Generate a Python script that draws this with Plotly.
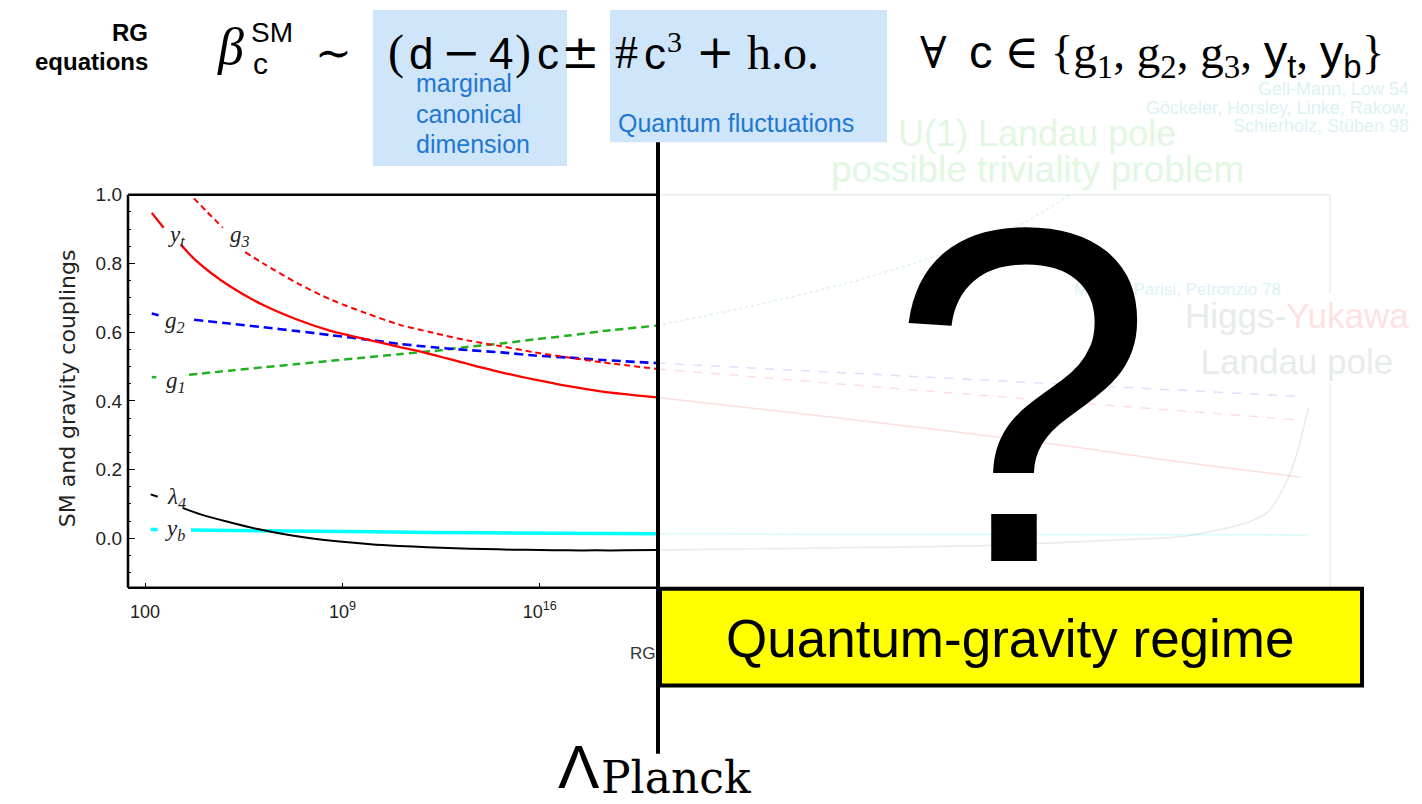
import plotly.graph_objects as go

W, H = 1422, 804

# ---------------- data ----------------
# x: log10 of the RG scale k [GeV]; None = gap left for the curve label
yt_logk = [2.24, 2.66, None, 3.26, 3.8, 5.0, 6.21, 7.41, 8.61, 9.81, 11.01, 11.98, 13.42, 14.63,
           15.82, 17.02, 18.22, 20.15]
yt_val = [0.947, 0.904, None, 0.856, 0.809, 0.734, 0.678, 0.636, 0.603, 0.580, 0.557, 0.539, 0.508,
          0.483, 0.462, 0.443, 0.427, 0.410]

g3_logk = [3.3, 3.62, 4.2, 4.76, None, 5.55, 6.21, 7.41, 8.61, 9.81, 11.01, 12.22, 13.42, 14.63,
           15.82, 17.02, 18.22, 20.15]
g3_val = [1.035, 1.0, 0.950, 0.904, None, 0.833, 0.799, 0.742, 0.694, 0.656, 0.622, 0.598, 0.576,
          0.559, 0.541, 0.526, 0.512, 0.493]

g2_logk = [2.24, 2.48, None, 3.74, 5.0, 6.21, 7.41, 8.61, 9.81, 11.01, 12.22, 13.42, 14.63, 15.82,
           17.02, 18.22, 20.15]
g2_val = [0.654, 0.649, None, 0.636, 0.625, 0.614, 0.603, 0.591, 0.579, 0.566, 0.556, 0.548, 0.541,
          0.532, 0.526, 0.519, 0.510]

g1_logk = [2.24, 2.4, None, 3.56, 5.0, 6.21, 7.41, 8.61, 9.81, 11.01, 12.22, 13.42, 14.63, 15.82,
           17.02, 18.22, 20.15]
g1_val = [0.469, 0.469, None, 0.476, 0.488, 0.498, 0.507, 0.517, 0.526, 0.536, 0.545, 0.557, 0.567,
          0.579, 0.590, 0.603, 0.619]

lam_logk = [2.2, 2.45, None, 3.35, 4, 5, 6, 7, 8, 9, 10, 11, 12, 13, 14, 15, 16, 17, 18, 19, 20.15]
lam_val = [0.128, 0.121, None, 0.088, 0.069, 0.047, 0.027, 0.011, -0.001, -0.010, -0.017, -0.022,
           -0.026, -0.029, -0.031, -0.033, -0.034, -0.035, -0.035, -0.035, -0.034]

yb_logk = [2.2, 2.45, None, 3.63, 6, 10, 14, 20.15]
yb_val = [0.026, 0.026, None, 0.024, 0.022, 0.019, 0.016, 0.013]

# faded trans-Planckian continuation
g1_tp_logk = [20.15, 23.45, 27.0, 30.55, 33.0, 34.8, 35.9]
g1_tp_val = [0.619, 0.675, 0.745, 0.835, 0.912, 1.0, 1.07]
g2_tp_logk = [20.15, 30, 42.96]
g2_tp_val = [0.510, 0.468, 0.413]
g3_tp_logk = [20.15, 30, 42.96]
g3_tp_val = [0.493, 0.427, 0.344]
yt_tp_logk = [20.15, 26.6, 33.6, 38.0, 39.4, 42.96]
yt_tp_val = [0.410, 0.350, 0.281, 0.230, 0.215, 0.178]
lam_tp_logk = [20.15, 32.1, 36.0, 39.1, 41.75, 42.6, 42.96, 43.25]
lam_tp_val = [-0.034, -0.020, -0.006, 0.009, 0.072, 0.187, 0.281, 0.379]
yb_tp_logk = [20.15, 43.25]
yb_tp_val = [0.013, 0.010]

x_tick_vals = [100.0, 1e9, 1e16]
x_tick_text = ["100", "10<sup>9</sup>", "10<sup>16</sup>"]
y_tick_vals = [0.0, 0.2, 0.4, 0.6, 0.8, 1.0]
y_tick_text = ["0.0", "0.2", "0.4", "0.6", "0.8", "1.0"]


def to_k(logk):
    return [None if v is None else 10.0 ** float(v) for v in logk]


def px(x):
    return x / W


def py(y):
    return 1 - y / H


fig = go.Figure()


def add(logk, vals, color, width, dash="solid", shape="spline"):
    fig.add_trace(go.Scatter(x=to_k(logk), y=vals, mode="lines", connectgaps=False,
                             line=dict(color=color, width=width, dash=dash, shape=shape,
                                       smoothing=0.8),
                             hoverinfo="skip", showlegend=False))


# faded continuation first
add(g1_tp_logk, g1_tp_val, "rgba(0,180,0,0.13)", 1.5, "dot")
add(g2_tp_logk, g2_tp_val, "rgba(0,0,255,0.13)", 1.5, "dash")
add(g3_tp_logk, g3_tp_val, "rgba(255,0,0,0.13)", 1.5, "dash")
add(yt_tp_logk, yt_tp_val, "rgba(255,0,0,0.13)", 1.5)
add(lam_tp_logk, lam_tp_val, "rgba(0,70,40,0.10)", 1.5)
add(yb_tp_logk, yb_tp_val, "rgba(0,220,220,0.15)", 1.5)

# Standard-Model part
add(yb_logk, yb_val, "#00ffff", 3.5)
add(lam_logk, lam_val, "#000000", 2.0)
add(g1_logk, g1_val, "#22b022", 2.5, "8px,5px")
add(g2_logk, g2_val, "#0000ff", 2.6, "9px,5px")
add(g3_logk, g3_val, "#ff0000", 2.0, "6px,4px")
add(yt_logk, yt_val, "#ff0000", 2.3)

X0, X1 = 128, 1330
Y0, Y1 = 187, 585

fig.update_layout(
    width=W, height=H,
    margin=dict(l=0, r=0, t=0, b=0),
    paper_bgcolor="white", plot_bgcolor="white",
    showlegend=False,
    xaxis=dict(type="log", domain=[px(X0), px(X1)], range=[1.397, 44.02],
               showgrid=False, zeroline=False, showline=False,
               tickvals=x_tick_vals, ticktext=x_tick_text,
               ticks="inside", ticklen=5, tickwidth=1.2, tickcolor="black",
               ticklabelstandoff=11,
               tickfont=dict(family="Liberation Sans", size=18, color="#222")),
    yaxis=dict(domain=[py(Y1), py(Y0)], range=[-0.1437, 1.0],
               showgrid=False, zeroline=False, showline=False,
               tickvals=y_tick_vals, ticktext=y_tick_text,
               ticks="inside", ticklen=7, tickwidth=1.2, tickcolor="black",
               ticklabelstandoff=5,
               minor=dict(ticks="inside", ticklen=3, dtick=0.05, tickcolor="black", tickwidth=1),
               tickfont=dict(family="Liberation Sans", size=19, color="#222")),
)

shapes = []


def line(x0, y0, x1, y1, color, width, layer="above"):
    shapes.append(dict(type="line", xref="paper", yref="paper",
                       x0=px(x0), y0=py(y0), x1=px(x1), y1=py(y1),
                       line=dict(color=color, width=width), layer=layer))


def rect(x0, y0, x1, y1, fill, lcolor=None, lwidth=0, layer="above"):
    shapes.append(dict(type="rect", xref="paper", yref="paper",
                       x0=px(x0), y0=py(y0), x1=px(x1), y1=py(y1),
                       fillcolor=fill, line=dict(color=lcolor or fill, width=lwidth), layer=layer))


# blue highlight boxes
rect(373, 0, 567, 158, "#cfe6fa", layer="below")
rect(610, 0, 887, 134, "#cfe6fa", layer="below")
# faded frame
line(657, Y0, X1, Y0, "#e6eeea", 1.5)
line(X1, Y0, X1, 287, "#e6eeea", 1.5)
line(X1, 378, X1, Y1, "#e6eeea", 1.5)
line(657, Y1, X1, Y1, "#e6eeea", 1.5)
# main frame
line(X0, Y0, 658, Y0, "black", 2.5)
line(X0, Y1, 658, Y1, "black", 2.5)
line(X0, Y0, X0, Y1, "black", 2.5)
# yellow box
rect(660, 586, 1362, 684, "#ffff00", "black", 4)
# Planck line
line(658, 134, 658, 753, "black", 4)
fig.update_layout(shapes=shapes)

anns = []


def ann(text, x, y, size, family="Liberation Sans", color="black", xa="center", ya="middle", **kw):
    d = dict(text=text, x=px(x), y=py(y), xref="paper", yref="paper", showarrow=False,
             xanchor=xa, yanchor=ya, font=dict(size=size, family=family, color=color), borderpad=0)
    d.update(kw)
    anns.append(d)


SER = "Liberation Serif, DejaVu Serif"
SAN = "Liberation Sans, DejaVu Sans"

# header
ann("<b>RG</b>", 149, 23, 24, xa="right")
ann("<b>equations</b>", 149, 52, 24, xa="right")

# formula  beta_c^SM ~ (d-4) c +- # c^3 + h.o.   forall c in {...}
ann("<i>β</i>", 231, 37, 52, SER)
ann("SM", 250, 23, 28, SAN, xa="left")
ann("c", 252, 54, 30, SAN, xa="left")
ann("∼", 333, 43, 44, "DejaVu Serif")
ann("(", 396, 43, 48, SER)
ann("d", 421, 44, 44, SAN)
ann("−", 462, 43, 46, "DejaVu Serif")
ann("4", 501, 44, 44, SAN)
ann(")", 523, 43, 48, SER)
ann("c", 548, 44, 44, SAN)
ann("±", 580, 43, 46, "DejaVu Serif")
ann("#", 626, 43, 46, SER)
ann("c", 655, 44, 44, SAN)
ann("3", 674, 32, 30, SER)
ann("+", 715, 43, 46, "DejaVu Serif")
ann("h.o.", 783, 43, 48, SER)
ann("∀", 933, 43, 44, "DejaVu Serif")
ann('<span style="font-family:Liberation Sans">c</span> ∈ {g<sub>1</sub>, g<sub>2</sub>, g<sub>3</sub>, '
    '<span style="font-family:Liberation Sans">y<sub>t</sub></span>, '
    '<span style="font-family:Liberation Sans">y<sub>b</sub></span>}', 968, 46, 47, SER, xa="left")

BLUE = "#1f77d0"
ann("marginal", 415, 74, 25, color=BLUE, xa="left")
ann("canonical", 415, 105, 25, color=BLUE, xa="left")
ann("dimension", 415, 136, 25, color=BLUE, xa="left")
ann("Quantum fluctuations", 617, 114, 25, color=BLUE, xa="left")

# faded annotations
REF = "#ddf1f4"
ann("Gell-Mann, Low 54", 1410, 80, 18, color=REF, xa="right")
ann("Göckeler, Horsley, Linke, Rakow,", 1410, 99, 18, color=REF, xa="right")
ann("Schierholz, Stüben 98", 1410, 117, 18, color=REF, xa="right")
ann("U(1) Landau pole", 1037, 125, 36, color="#e2f7e2")
ann("possible triviality problem", 1037, 162, 37, color="#e2f7e2")
ann("Maiani, Parisi, Petronzio 78", 1177, 283, 17, color="#dbf1f7")
ann('Higgs-<span style="fill:#fde2e2">Yukawa</span><br>Landau pole', 1297, 333, 35,
    color="#e7ecea", bgcolor="white")

# axis title and curve labels
ann("SM and gravity couplings", 67, 383, 22, "DejaVu Sans", color="#222", textangle=-90)
LS = "Liberation Serif"
ann("<i>y<sub>t</sub></i>", 176, 229, 23, LS, color="#222")
ann("<i>g<sub>3</sub></i>", 240, 229, 23, LS, color="#222")
ann("<i>g<sub>2</sub></i>", 175, 316, 23, LS, color="#222")
ann("<i>g<sub>1</sub></i>", 176, 377, 23, LS, color="#222")
ann("<i>λ<sub>4</sub></i>", 176, 494, 23, LS, color="#222")
ann("<i>y<sub>b</sub></i>", 175, 527, 23, LS, color="#222")

# question mark, regime box, Planck scale
ann("?", 1022, 390, 478, "Liberation Sans")
ann("Quantum-gravity regime", 1010, 636, 53, "Liberation Sans")
ann("RG", 657, 652, 17, color="#333", xa="right")
ann("Λ", 579, 766, 62, "Liberation Sans")
ann("Planck", 600, 0, 44, "DejaVu Serif", xa="left", ya="bottom")
anns[-1]["y"] = 0.0

fig.update_layout(annotations=anns)
fig.write_html("out.html")
